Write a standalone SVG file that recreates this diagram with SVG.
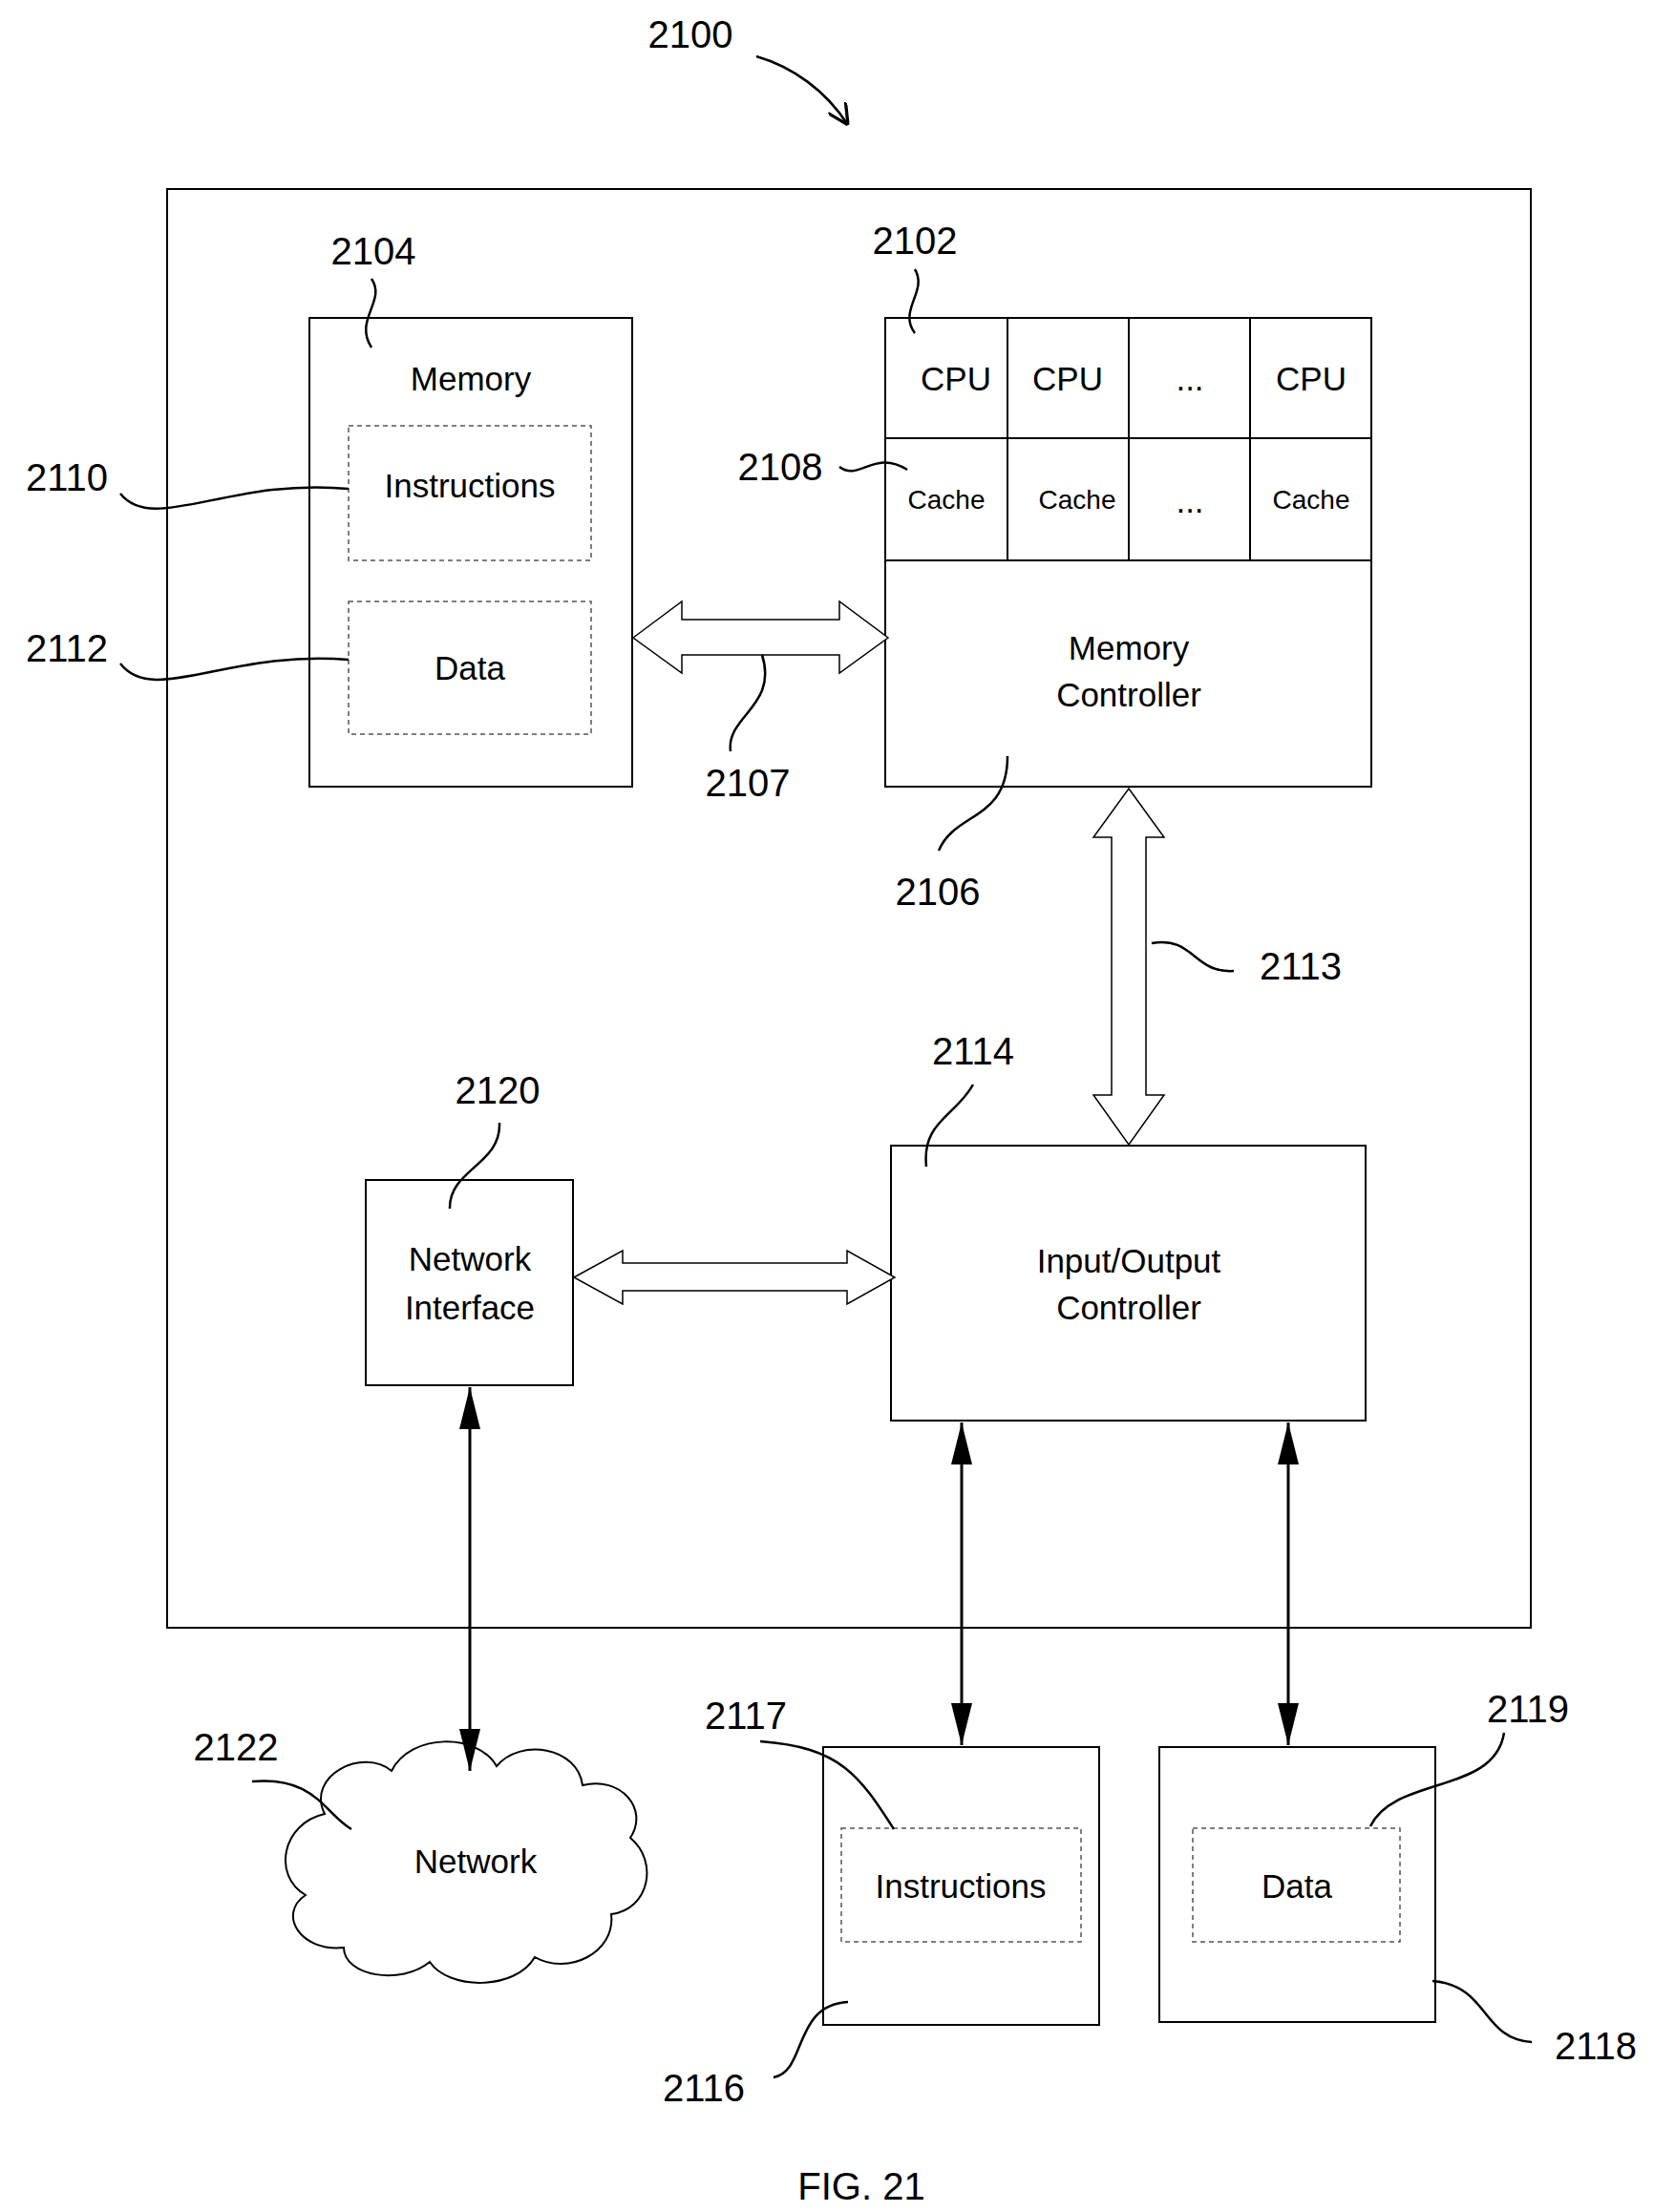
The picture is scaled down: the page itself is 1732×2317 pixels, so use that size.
<svg xmlns="http://www.w3.org/2000/svg" width="1732" height="2317" viewBox="0 0 1732 2317">
<defs>
<style>
.b{fill:#fff;stroke:#000;stroke-width:2}
.d{fill:none;stroke:#555;stroke-width:1.5;stroke-dasharray:5 4}
.l{fill:none;stroke:#000;stroke-width:2.5}
.ln{fill:none;stroke:#000;stroke-width:3}
.t{font-family:"Liberation Sans",Arial,sans-serif;font-size:35px;text-anchor:middle;fill:#000}
.s{font-size:28px}
.n{font-family:"Liberation Sans",Arial,sans-serif;font-size:40px;text-anchor:middle;fill:#000}
.h{fill:#fff;stroke:#000;stroke-width:1.5}
</style>
<marker id="f" viewBox="0 0 10 10" refX="10" refY="5" markerWidth="44" markerHeight="22" markerUnits="userSpaceOnUse" orient="auto-start-reverse" preserveAspectRatio="none"><path d="M0,0 L10,5 L0,10 Z"/></marker>
<marker id="s" viewBox="0 0 10 10" refX="10" refY="5" markerWidth="22" markerHeight="22" markerUnits="userSpaceOnUse" orient="auto"><path d="M0,0 L10,5 L0,10" fill="none" stroke="#000" stroke-width="1.5"/></marker>
</defs>
<rect width="1732" height="2317" fill="#fff"/>
<text class="n" x="723" y="50">2100</text>
<path class="l" d="M792,59 C830,70 865,95 888,131" marker-end="url(#s)"/>
<rect id="outer" class="b" x="175" y="198" width="1428" height="1507"/>

<g id="memory">
<rect class="b" x="324" y="333" width="338" height="491"/>
<text class="t" x="493" y="409">Memory</text>
<rect class="d" x="365" y="446" width="254" height="141"/>
<text class="t" x="492" y="521">Instructions</text>
<rect class="d" x="365" y="630" width="254" height="139"/>
<text class="t" x="492" y="712">Data</text>
</g>

<g id="cpu">
<rect class="b" x="927" y="333" width="509" height="491"/>
<path class="b" d="M927,459 H1436 M927,587 H1436 M1055,333 V587 M1182,333 V587 M1309,333 V587"/>
<text class="t" x="1001" y="409">CPU</text>
<text class="t" x="1118" y="409">CPU</text>
<text class="t" x="1246" y="409">...</text>
<text class="t" x="1373" y="409">CPU</text>
<text class="t s" x="991" y="533">Cache</text>
<text class="t s" x="1128" y="533">Cache</text>
<text class="t" x="1246" y="537">...</text>
<text class="t s" x="1373" y="533">Cache</text>
<text class="t" x="1182" y="691">Memory</text>
<text class="t" x="1182" y="740">Controller</text>
</g>

<g id="io">
<rect class="b" x="933" y="1200" width="497" height="288"/>
<text class="t" x="1182" y="1333">Input/Output</text>
<text class="t" x="1182" y="1382">Controller</text>
</g>

<g id="ni">
<rect class="b" x="383" y="1236" width="217" height="215"/>
<text class="t" x="492" y="1331">Network</text>
<text class="t" x="492" y="1382">Interface</text>
</g>

<g id="storage1">
<rect class="b" x="862" y="1830" width="289" height="291"/>
<rect class="d" x="881" y="1915" width="251" height="119"/>
<text class="t" x="1006" y="1988">Instructions</text>
</g>

<g id="storage2">
<rect class="b" x="1214" y="1830" width="289" height="288"/>
<rect class="d" x="1249" y="1915" width="217" height="119"/>
<text class="t" x="1358" y="1988">Data</text>
</g>

<g id="network">
<path class="b" d="M340,1900 C320,1860 380,1830 410,1855 C430,1815 500,1815 520,1850 C545,1820 605,1830 610,1870 C650,1860 680,1895 660,1925 C690,1950 680,2000 640,2005 C645,2045 595,2070 560,2050 C540,2085 470,2085 450,2055 C420,2080 360,2070 360,2040 C315,2045 290,2005 320,1985 C285,1965 295,1910 340,1900 Z"/>
<text class="t" x="498" y="1962">Network</text>
</g>

<g id="connectors">
<path class="h" d="M663,668 L714,630 L714,649 L879,649 L879,630 L930,668 L879,705 L879,686 L714,686 L714,705 Z"/>
<path class="h" d="M1182,826 L1219,877 L1200,877 L1200,1147 L1219,1147 L1182,1199 L1145,1147 L1164,1147 L1164,877 L1145,877 Z"/>
<path class="h" d="M601,1338 L652,1310 L652,1323 L887,1323 L887,1310 L937,1338 L887,1366 L887,1352 L652,1352 L652,1366 Z"/>
<line class="ln" x1="492" y1="1453" x2="492" y2="1855" marker-start="url(#f)" marker-end="url(#f)"/>
<line class="ln" x1="1007" y1="1490" x2="1007" y2="1828" marker-start="url(#f)" marker-end="url(#f)"/>
<line class="ln" x1="1349" y1="1490" x2="1349" y2="1828" marker-start="url(#f)" marker-end="url(#f)"/>
</g>

<g id="labels">
<text class="n" x="391" y="277">2104</text>
<path class="l" d="M389,292 C405,315 370,335 389,364"/>
<text class="n" x="958" y="266">2102</text>
<path class="l" d="M958,282 C972,305 940,325 958,349"/>
<text class="n" x="70" y="514">2110</text>
<path class="l" d="M126,517 C160,560 240,500 365,512"/>
<text class="n" x="70" y="693">2112</text>
<path class="l" d="M126,695 C160,740 240,680 365,691"/>
<text class="n" x="817" y="503">2108</text>
<path class="l" d="M879,489 C900,505 915,470 950,492"/>
<text class="n" x="783" y="834">2107</text>
<path class="l" d="M798,686 C815,740 760,750 765,787"/>
<text class="n" x="982" y="948">2106</text>
<path class="l" d="M1055,792 C1055,860 1000,850 983,891"/>
<text class="n" x="1362" y="1026">2113</text>
<path class="l" d="M1206,988 C1250,980 1250,1020 1292,1017"/>
<text class="n" x="1019" y="1115">2114</text>
<path class="l" d="M1019,1136 C1000,1170 965,1175 970,1222"/>
<text class="n" x="521" y="1156">2120</text>
<path class="l" d="M523,1176 C525,1220 470,1225 471,1266"/>
<text class="n" x="781" y="1811">2117</text>
<path class="l" d="M796,1824 C880,1830 900,1860 936,1916"/>
<text class="n" x="737" y="2201">2116</text>
<path class="l" d="M888,2097 C830,2100 845,2170 810,2176"/>
<text class="n" x="1600" y="1804">2119</text>
<path class="l" d="M1575,1815 C1565,1880 1460,1860 1435,1913"/>
<text class="n" x="1671" y="2157">2118</text>
<path class="l" d="M1500,2075 C1560,2080 1550,2135 1604,2139"/>
<text class="n" x="247" y="1844">2122</text>
<path class="l" d="M264,1866 C330,1860 340,1900 368,1916"/>
<text class="n" x="902" y="2304">FIG. 21</text>
</g>
</svg>
